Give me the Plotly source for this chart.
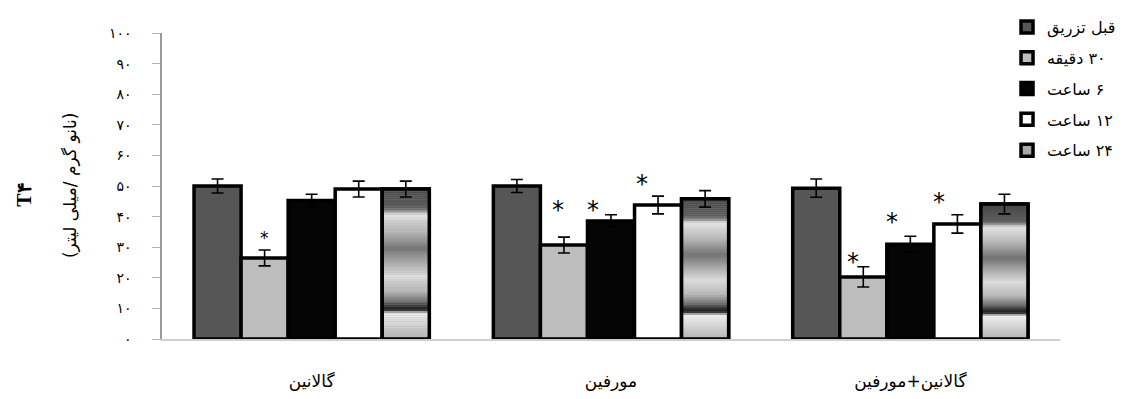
import numpy as np
import plotly.graph_objects as go

# ---- data -------------------------------------------------------------
RLM = "\u200f"
categories = ["گالانین", "مورفین", "گالانین+مورفین"]
series_names = ["قبل تزریق", RLM + "۳۰ دقیقه", RLM + "۶ ساعت", RLM + "۱۲ ساعت", RLM + "۲۴ ساعت"]

before = [50.0, 50.0, 49.3]
min30 = [26.5, 30.7, 20.3]
hour6 = [45.3, 38.6, 31.0]
hour12 = [49.0, 43.8, 37.6]
hour24 = [49.0, 45.8, 44.1]

err_before = [2.3, 2.1, 3.0]
err_min30 = [2.6, 2.6, 3.3]
err_hour6 = [2.0, 2.0, 2.6]
err_hour12 = [2.6, 2.9, 3.0]
err_hour24 = [2.6, 2.7, 3.2]

# significance marks (*) per series and group
sig_min30 = [True, True, True]
sig_hour6 = [False, True, True]
sig_hour12 = [False, True, True]

y_tickvals = [0, 10, 20, 30, 40, 50, 60, 70, 80, 90, 100]
y_ticktext = ["۰", "۱۰", "۲۰", "۳۰", "۴۰", "۵۰", "۶۰", "۷۰", "۸۰", "۹۰", "۱۰۰"]

y_title_main = "T۴"
y_title_unit = "(نانو گرم /میلی لیتر)"

# ---- styling -------------------------------------------------------------
FONT = "DejaVu Sans"
OUTLINE = 3.5
BARGAP = 0.214
N_SERIES = 5
BAR_W = (1 - BARGAP) / N_SERIES

fills = ["#565656", "#bdbdbd", "#050505", "#ffffff"]
values = [before, min30, hour6, hour12, hour24]
errors = [err_before, err_min30, err_hour6, err_hour12, err_hour24]
groups = ["a", "b", "c", "d", "e"]

err_style = dict(type="data", color="black", thickness=1.6, width=6, visible=True)

fig = go.Figure()

for j in range(4):
    fig.add_trace(go.Bar(
        x=categories, y=values[j], name=series_names[j],
        offsetgroup=groups[j], legendgroup=groups[j],
        marker=dict(color=fills[j], line=dict(color="black", width=OUTLINE)),
        error_y=dict(array=errors[j], **err_style),
    ))

# banded grey fill of the last series: legend swatch + bar body first
fig.add_trace(go.Bar(
    x=categories, y=hour24, name=series_names[4],
    offsetgroup="e", legendgroup="e",
    marker=dict(color="#a8a8a8", line=dict(color="black", width=OUTLINE)),
))

# shading bands (fraction from the top of the bar, grey level)
band_pos = [0.0, 0.13, 0.15, 0.17, 0.28, 0.40, 0.50, 0.58, 0.68, 0.75, 0.79, 0.81, 0.83, 1.0]
band_grey = [70, 95, 150, 228, 185, 115, 175, 220, 185, 110, 35, 60, 238, 180]
n_slices = 70
v24 = np.array(hour24)
for k in range(n_slices):
    t0, t1 = k / n_slices, (k + 1) / n_slices
    g = int(np.interp((t0 + t1) / 2, band_pos, band_grey))
    fig.add_trace(go.Bar(
        x=categories, y=v24 / n_slices, base=v24 * (1 - t1),
        offsetgroup="e", showlegend=False, hoverinfo="skip",
        marker=dict(color=f"rgb({g},{g},{g})", line=dict(width=0)),
    ))

# outline and error bars of the last series on top
fig.add_trace(go.Bar(
    x=categories, y=hour24, offsetgroup="e", showlegend=False,
    marker=dict(color="rgba(0,0,0,0)", line=dict(color="black", width=OUTLINE)),
    error_y=dict(array=err_hour24, **err_style),
))

# significance stars: per-group (xshift, yshift, size) for each marked series
star_style = {
    1: [(0, -1, 17), (-6, 10, 24), (-10, -12, 24)],
    2: [(0, 0, 24), (-18, -12, 24), (-18, -3, 24)],
    3: [(0, 0, 24), (-16, -5, 24), (-18, -4, 24)],
}
for j, sig in [(1, sig_min30), (2, sig_hour6), (3, sig_hour12)]:
    for i, s in enumerate(sig):
        if not s:
            continue
        dx, dy, size = star_style[j][i]
        fig.add_annotation(
            x=i + (j - 2) * BAR_W, y=values[j][i] + errors[j][i],
            text="*", showarrow=False, xshift=dx, yshift=dy + size * 0.05,
            yanchor="bottom", font=dict(family="DejaVu Sans", size=size, color="black"),
        )

# y-axis titles
fig.add_annotation(
    x=-0.153, y=0.47, xref="paper", yref="paper", text=f"<b>{y_title_main}</b>",
    xanchor="center", yanchor="middle",
    textangle=-90, showarrow=False, font=dict(family="Liberation Serif", size=20, color="black"),
)
fig.add_annotation(
    x=-0.1025, y=0.503, xref="paper", yref="paper", text=y_title_unit,
    xanchor="center", yanchor="middle",
    textangle=-90, showarrow=False, font=dict(family=FONT, size=17, color="black"),
)

fig.update_layout(
    width=1132, height=399,
    margin=dict(l=162, r=72, t=33, b=60, autoexpand=False),
    paper_bgcolor="white", plot_bgcolor="white",
    barmode="group", bargap=BARGAP, bargroupgap=0,
    showlegend=True,
    legend=dict(
        x=0.941, y=1.075, xanchor="left", yanchor="top",
        font=dict(family=FONT, size=16, color="black"),
        tracegroupgap=7, bgcolor="rgba(0,0,0,0)", itemwidth=30,
    ),
    font=dict(family=FONT, color="black"),
)
fig.update_xaxes(
    showline=True, linecolor="#cfcfcf", linewidth=1.5, showgrid=False,
    ticks="", tickfont=dict(family=FONT, size=17, color="black"),
    ticklabelstandoff=26,
)
fig.update_yaxes(
    range=[0, 100], tickvals=y_tickvals, ticktext=y_ticktext,
    showline=True, linecolor="#9a9a9a", linewidth=1.5, showgrid=False,
    ticks="outside", ticklen=8, tickcolor="#b0b0b0",
    tickfont=dict(family=FONT, size=14, color="black"), ticklabelstandoff=18,
    zeroline=False,
)

fig.write_html("out.html")
